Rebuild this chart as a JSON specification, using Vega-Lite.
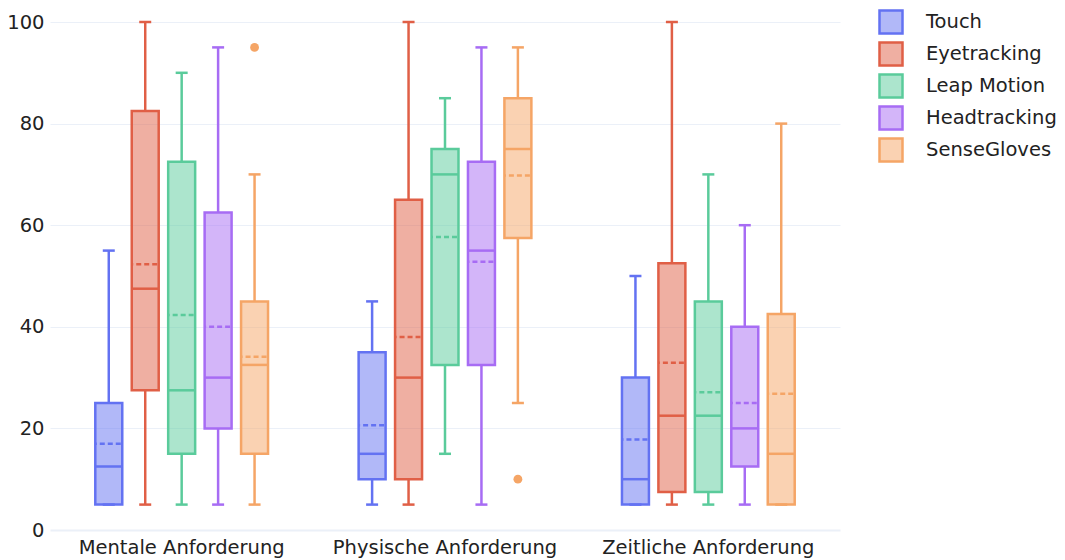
{
  "$schema": "https://vega.github.io/schema/vega-lite/v6.json",
  "width": 790,
  "height": 508,
  "padding": {"left": 6, "top": 9, "right": 5, "bottom": 3},
  "background": "white",
  "config": {
    "font": "DejaVu Sans",
    "view": {"stroke": null},
    "axis": {"labelFontSize": 19.5, "labelColor": "#222", "ticks": false, "domain": false, "title": null, "labelLimit": 0}
  },
  "datasets": {
    "boxes": [
      {"cat": "Mentale Anforderung", "device": "Touch", "lo": 5, "q1": 5, "med": 12.5, "mean": 17, "q3": 25, "hi": 55},
      {"cat": "Mentale Anforderung", "device": "Eyetracking", "lo": 5, "q1": 27.5, "med": 47.5, "mean": 52.3, "q3": 82.5, "hi": 100},
      {"cat": "Mentale Anforderung", "device": "Leap Motion", "lo": 5, "q1": 15, "med": 27.5, "mean": 42.3, "q3": 72.5, "hi": 90},
      {"cat": "Mentale Anforderung", "device": "Headtracking", "lo": 5, "q1": 20, "med": 30, "mean": 40, "q3": 62.5, "hi": 95},
      {"cat": "Mentale Anforderung", "device": "SenseGloves", "lo": 5, "q1": 15, "med": 32.5, "mean": 34.1, "q3": 45, "hi": 70},
      {"cat": "Physische Anforderung", "device": "Touch", "lo": 5, "q1": 10, "med": 15, "mean": 20.6, "q3": 35, "hi": 45},
      {"cat": "Physische Anforderung", "device": "Eyetracking", "lo": 5, "q1": 10, "med": 30, "mean": 38, "q3": 65, "hi": 100},
      {"cat": "Physische Anforderung", "device": "Leap Motion", "lo": 15, "q1": 32.5, "med": 70, "mean": 57.7, "q3": 75, "hi": 85},
      {"cat": "Physische Anforderung", "device": "Headtracking", "lo": 5, "q1": 32.5, "med": 55, "mean": 52.8, "q3": 72.5, "hi": 95},
      {"cat": "Physische Anforderung", "device": "SenseGloves", "lo": 25, "q1": 57.5, "med": 75, "mean": 69.8, "q3": 85, "hi": 95},
      {"cat": "Zeitliche Anforderung", "device": "Touch", "lo": 5, "q1": 5, "med": 10, "mean": 17.8, "q3": 30, "hi": 50},
      {"cat": "Zeitliche Anforderung", "device": "Eyetracking", "lo": 5, "q1": 7.5, "med": 22.5, "mean": 32.9, "q3": 52.5, "hi": 100},
      {"cat": "Zeitliche Anforderung", "device": "Leap Motion", "lo": 5, "q1": 7.5, "med": 22.5, "mean": 27.1, "q3": 45, "hi": 70},
      {"cat": "Zeitliche Anforderung", "device": "Headtracking", "lo": 5, "q1": 12.5, "med": 20, "mean": 25, "q3": 40, "hi": 60},
      {"cat": "Zeitliche Anforderung", "device": "SenseGloves", "lo": 5, "q1": 5, "med": 15, "mean": 26.8, "q3": 42.5, "hi": 80}
    ],
    "outliers": [
      {"cat": "Mentale Anforderung", "device": "SenseGloves", "value": 95},
      {"cat": "Physische Anforderung", "device": "SenseGloves", "value": 10}
    ]
  },
  "data": {"name": "boxes"},
  "encoding": {
    "x": {
      "field": "cat", "type": "nominal",
      "scale": {"domain": ["Mentale Anforderung", "Physische Anforderung", "Zeitliche Anforderung"], "paddingInner": 0.308, "paddingOuter": 0.154},
      "axis": {"labelAngle": 0, "labelPadding": 8, "grid": false},
      "title": null
    },
    "xOffset": {
      "field": "device", "type": "nominal",
      "scale": {"domain": ["Touch", "Eyetracking", "Leap Motion", "Headtracking", "SenseGloves"], "paddingInner": 0.26, "paddingOuter": 0.13}
    },
    "color": {
      "field": "device", "type": "nominal",
      "scale": {"domain": ["Touch", "Eyetracking", "Leap Motion", "Headtracking", "SenseGloves"], "range": ["#6372f2", "#e05f46", "#5acb9b", "#a76cf4", "#f5a566"]},
      "legend": {
        "title": null, "orient": "none", "legendX": 828, "legendY": -13, "padding": 0,
        "symbolType": "square", "symbolSize": 529, "labelFontSize": 19.5, "labelColor": "#222",
        "labelOffset": 22, "rowPadding": -2,
        "encode": {"symbols": {"update": {"fillOpacity": {"value": 0.5}, "stroke": {"scale": "color", "field": "value"}, "strokeWidth": {"value": 2.5}, "opacity": {"value": 1}}}}
      }
    }
  },
  "layer": [
    {
      "mark": {"type": "rule", "strokeWidth": 2.5},
      "encoding": {
        "y": {"field": "lo", "type": "quantitative", "scale": {"domain": [0, 100], "nice": false},
          "axis": {"values": [0, 20, 40, 60, 80, 100], "labelPadding": 6, "grid": true, "gridColor": "#ebf0f8",
            "gridWidth": {"condition": {"test": "datum.value === 0", "value": 2}, "value": 1}}},
        "y2": {"field": "q1"}
      }
    },
    {
      "mark": {"type": "rule", "strokeWidth": 2.5},
      "encoding": {"y": {"field": "q3", "type": "quantitative"}, "y2": {"field": "hi"}}
    },
    {
      "mark": {"type": "bar", "fillOpacity": 0.5, "strokeWidth": 2.5},
      "encoding": {
        "y": {"field": "q1", "type": "quantitative"},
        "y2": {"field": "q3"},
        "stroke": {"field": "device", "type": "nominal",
          "scale": {"domain": ["Touch", "Eyetracking", "Leap Motion", "Headtracking", "SenseGloves"], "range": ["#6372f2", "#e05f46", "#5acb9b", "#a76cf4", "#f5a566"]},
          "legend": null}
      }
    },
    {
      "mark": {"type": "tick", "size": 27, "thickness": 2.5, "opacity": 1},
      "encoding": {"y": {"field": "med", "type": "quantitative"}}
    },
    {
      "mark": {"type": "tick", "size": 27, "thickness": 0, "filled": false, "strokeWidth": 2.5, "strokeDash": [5, 3], "strokeDashOffset": 3.5, "opacity": 1},
      "encoding": {"y": {"field": "mean", "type": "quantitative"}}
    },
    {
      "mark": {"type": "tick", "size": 12, "thickness": 2.5, "opacity": 1},
      "encoding": {"y": {"field": "lo", "type": "quantitative"}}
    },
    {
      "mark": {"type": "tick", "size": 12, "thickness": 2.5, "opacity": 1},
      "encoding": {"y": {"field": "hi", "type": "quantitative"}}
    },
    {
      "data": {"name": "outliers"},
      "mark": {"type": "point", "filled": true, "size": 78, "opacity": 1},
      "encoding": {"y": {"field": "value", "type": "quantitative"}}
    }
  ]
}
